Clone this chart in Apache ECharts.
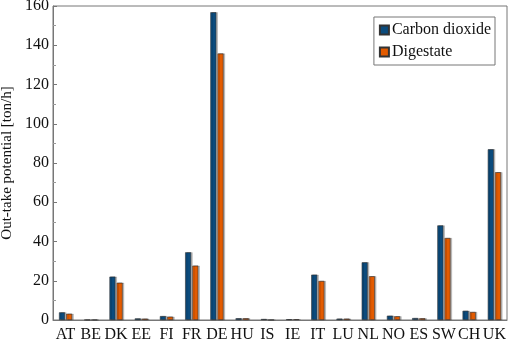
<!DOCTYPE html>
<html>
<head>
<meta charset="utf-8">
<script src="https://cdn.jsdelivr.net/npm/echarts@6/dist/echarts.min.js"></script>
<style>
html, body { margin: 0; padding: 0; background: #fff; }
#chart { width: 512px; height: 344px; }
</style>
</head>
<body>
<div id="chart"></div>
<script>
// countries on the x axis
var countries = ['AT', 'BE', 'DK', 'EE', 'FI', 'FR', 'DE', 'HU', 'IS', 'IE', 'IT', 'LU', 'NL', 'NO', 'ES', 'SW', 'CH', 'UK'];
// out-take potential, ton/h
var carbonDioxide = [3.9, 0.1, 22.1, 0.8, 2.0, 34.5, 156.8, 0.9, 0.5, 0.4, 23.1, 0.7, 29.4, 2.2, 1.0, 48.2, 4.7, 87.0];
var digestate = [3.2, 0.1, 19.0, 0.7, 1.7, 27.7, 135.8, 0.9, 0.1, 0.4, 19.9, 0.7, 22.3, 1.9, 0.9, 41.8, 4.1, 75.3];
var seriesNames = ['Carbon dioxide', 'Digestate'];
var colors = ['#0b4b7d', '#e35b00'];

var serif = '"Liberation Serif", "DejaVu Serif", serif';
var myChart = echarts.init(document.getElementById('chart'));

function makeSeries(name, data, color) {
    return {
        name: name,
        type: 'bar',
        data: data,
        barWidth: 6,
        barGap: '20%',
        itemStyle: {
            color: color,
            borderColor: '#333',
            borderWidth: 0.6,
            shadowColor: 'rgba(0,0,0,0.25)',
            shadowOffsetX: 1.5,
            shadowOffsetY: 0,
            shadowBlur: 0
        }
    };
}

var option = {
    animation: false,
    color: colors,
    grid: {
        left: 53, right: 5, top: 6, bottom: 24,
        outerBoundsMode: 'none',
        show: true, borderColor: '#777', borderWidth: 1
    },
    legend: {
        right: 17, top: 17,
        orient: 'vertical',
        itemWidth: 9, itemHeight: 9,
        itemGap: 6,
        padding: [5, 4, 5, 5],
        borderColor: '#777', borderWidth: 1,
        icon: 'rect',
        textStyle: { fontFamily: serif, fontSize: 16, color: '#111', padding: [0, 0, 0, -2] },
        data: seriesNames
    },
    xAxis: {
        type: 'category',
        data: countries,
        axisTick: { show: false },
        axisLine: { lineStyle: { color: '#777' } },
        axisLabel: { interval: 0, fontFamily: serif, fontSize: 16, color: '#111', margin: 7 }
    },
    yAxis: {
        type: 'value',
        min: 0, max: 160, interval: 20,
        name: 'Out-take potential [ton/h]',
        nameLocation: 'middle',
        nameGap: 34,
        nameTextStyle: { fontFamily: serif, fontSize: 15, color: '#111' },
        axisLine: { show: true, lineStyle: { color: '#777' } },
        axisTick: { show: true, inside: true, length: 4, lineStyle: { color: '#777' } },
        minorTick: { show: true, splitNumber: 2, length: 3, lineStyle: { color: '#999' } },
        splitLine: { show: false },
        axisLabel: { fontFamily: serif, fontSize: 16, color: '#111', margin: 4 }
    },
    series: [
        makeSeries(seriesNames[0], carbonDioxide, colors[0]),
        makeSeries(seriesNames[1], digestate, colors[1])
    ]
};
myChart.setOption(option);
</script>
</body>
</html>
